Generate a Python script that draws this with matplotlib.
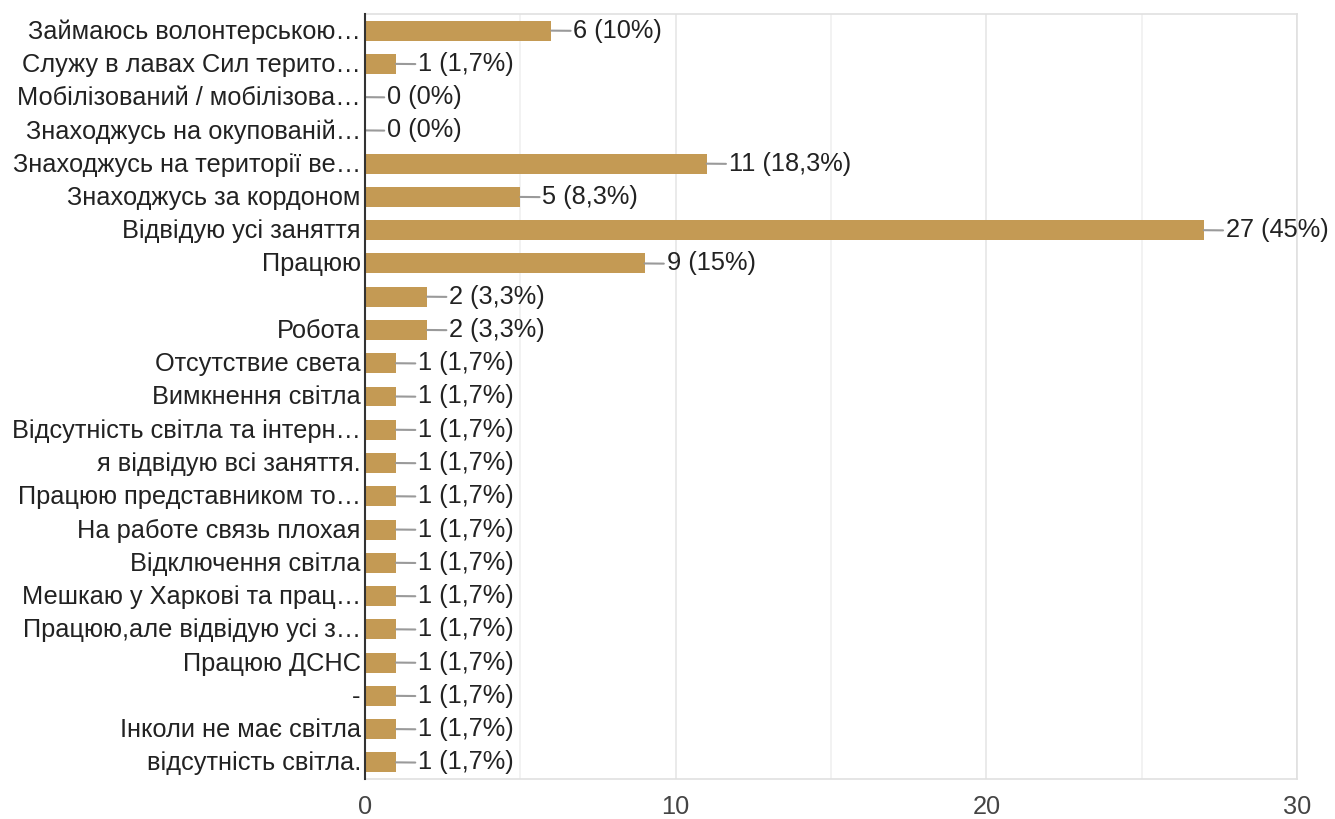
import matplotlib
matplotlib.use("Agg")
import matplotlib.pyplot as plt
import matplotlib.transforms as mtransforms
from matplotlib.ticker import MultipleLocator

plt.rcParams['font.family'] = ['Liberation Sans', 'DejaVu Sans']

categories = [
    "Займаюсь волонтерською…",
    "Служу в лавах Сил терито…",
    "Мобілізований / мобілізова…",
    "Знаходжусь на окупованій…",
    "Знаходжусь на території ве…",
    "Знаходжусь за кордоном",
    "Відвідую усі заняття",
    "Працюю",
    "",
    "Робота",
    "Отсутствие света",
    "Вимкнення світла",
    "Відсутність світла та інтерн…",
    "я відвідую всі заняття.",
    "Працюю представником то…",
    "На работе связь плохая",
    "Відключення світла",
    "Мешкаю у Харкові та прац…",
    "Працюю,але відвідую усі з…",
    "Працюю ДСНС",
    "-",
    "Інколи не має світла",
    "відсутність світла.",
]
values = [6, 1, 0, 0, 11, 5, 27, 9, 2, 2, 1, 1, 1, 1, 1, 1, 1, 1, 1, 1, 1, 1, 1]
value_labels = ["6 (10%)", "1 (1,7%)", "0 (0%)", "0 (0%)", "11 (18,3%)", "5 (8,3%)",
                "27 (45%)", "9 (15%)", "2 (3,3%)", "2 (3,3%)"] + ["1 (1,7%)"] * 13
x_ticks = [0, 10, 20, 30]

FS = 18.3

fig = plt.figure(figsize=(13.35, 8.2), dpi=100)
ax = fig.add_axes([365/1335, 1-780/820, (1297-365)/1335, (780-15)/820])

n = len(categories)
ypos = list(range(n))
ax.barh(ypos, values, height=0.6, color='#C49A54', zorder=3)

for y, v, lab in zip(ypos, values, value_labels):
    ax.annotate(lab, xy=(v, y), xytext=(22, 1), textcoords='offset pixels',
                ha='left', va='center', fontsize=FS, color='#222222',
                arrowprops=dict(arrowstyle='-', color='#9a9a9a', lw=1.5,
                                shrinkA=0, shrinkB=0, relpos=(0, 0.45)),
                zorder=4)

ax.set_ylim(n - 0.5, -0.5)
ax.set_xlim(0, 30)
ax.set_yticks(ypos)
ax.set_yticklabels(categories, fontsize=FS, color='#222222')
ax.set_xticks(x_ticks)
ax.set_xticklabels([str(t) for t in x_ticks], fontsize=FS, color='#444444')
ax.xaxis.set_minor_locator(MultipleLocator(5))
ax.tick_params(axis='both', which='both', length=0)
ax.tick_params(axis='y', pad=3)
ax.tick_params(axis='x', pad=11)
shift = mtransforms.ScaledTranslation(0, 2.5/100, fig.dpi_scale_trans)
for tick in ax.yaxis.get_major_ticks():
    tick.label1.set_transform(tick.label1.get_transform() + shift)
ax.grid(axis='x', which='major', color='#e6e6e6', lw=1.2, zorder=0)
ax.grid(axis='x', which='minor', color='#f0f0f0', lw=1.2, zorder=0)
for s in ['top', 'right', 'bottom']:
    ax.spines[s].set_color('#e0e0e0')
    ax.spines[s].set_linewidth(1.2)
ax.spines['left'].set_color('#333333')
ax.spines['left'].set_linewidth(1.5)
ax.spines['left'].set_zorder(5)

fig.savefig('out.png', dpi=100)
